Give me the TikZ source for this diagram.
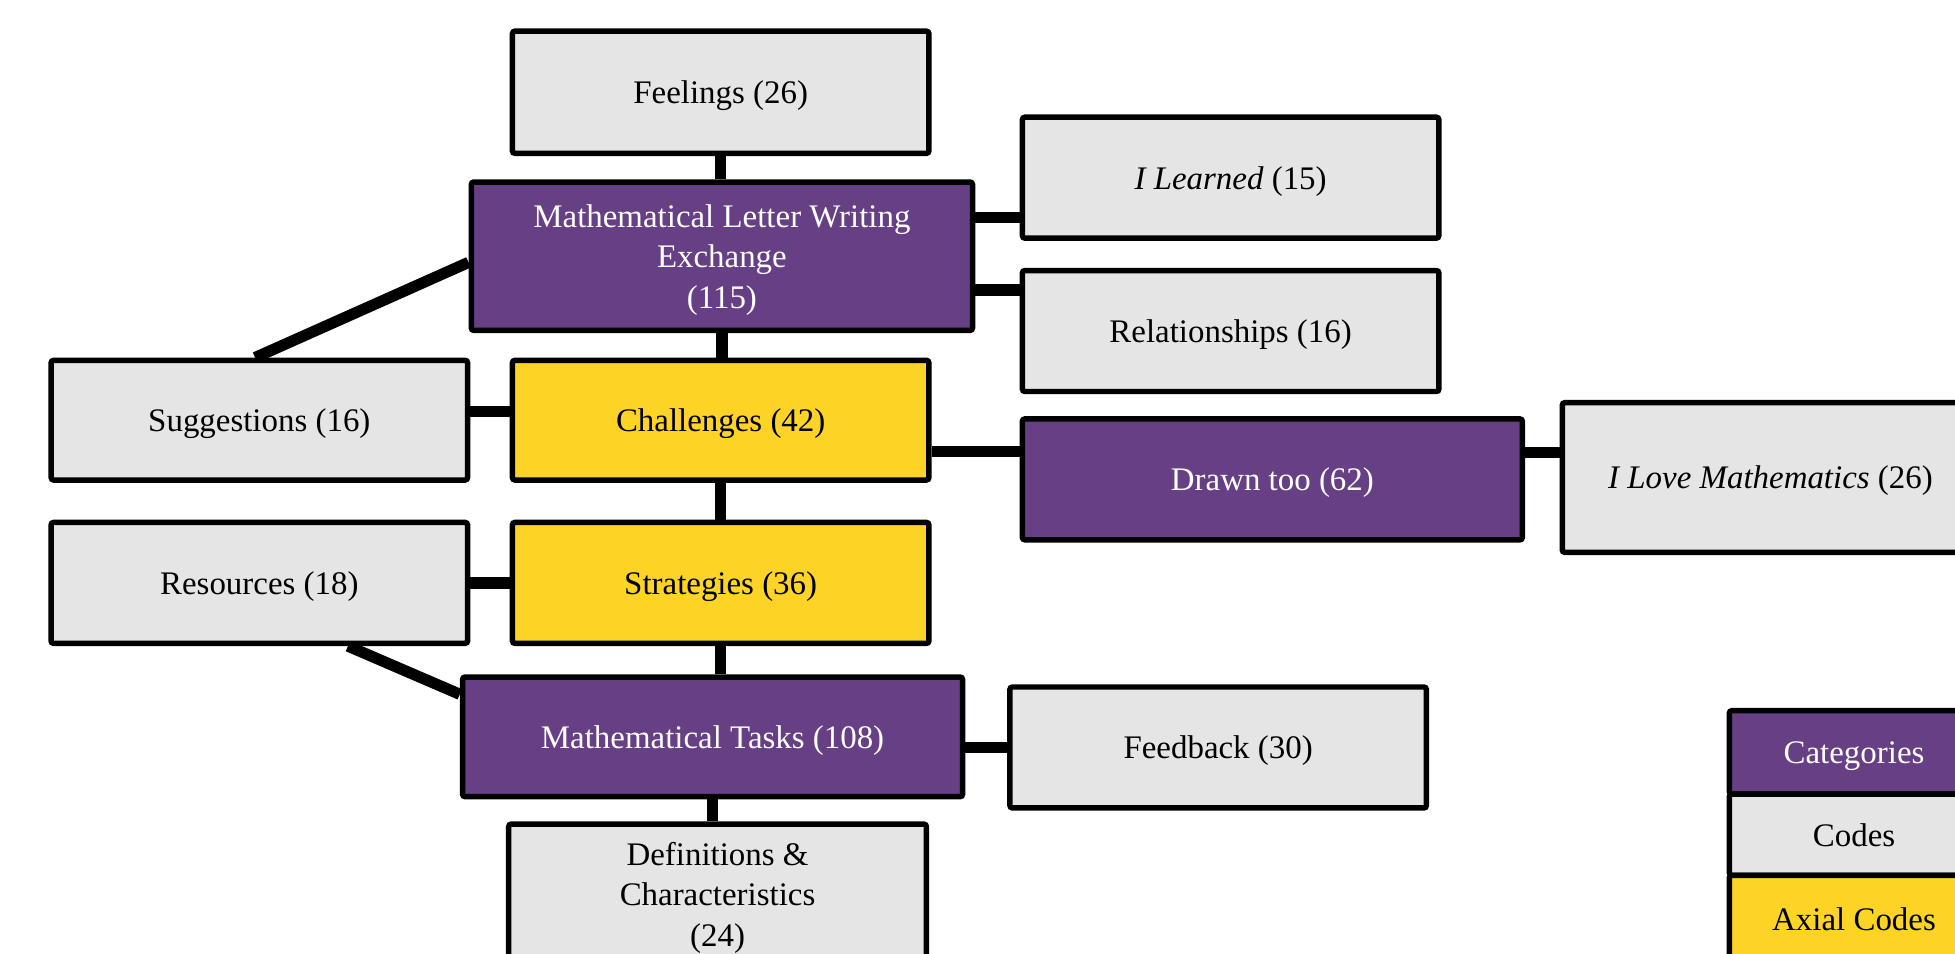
\documentclass[tikz,border=0pt]{standalone}
\usepackage{fontspec}
\setmainfont{Liberation Serif}
\usetikzlibrary{calc,backgrounds}
\definecolor{catpurple}{HTML}{663F85}
\definecolor{axyellow}{HTML}{FDD426}
\definecolor{codegray}{HTML}{E5E5E5}
\begin{document}
\begin{tikzpicture}[x=0.5pt,y=-0.5pt,
  base/.style={draw=black, line width=2.2pt, rounded corners=1pt, inner sep=0pt, align=center, text depth=-1pt, font=\fontsize{13.2}{16.25}\selectfont},
  cat/.style={base, fill=catpurple, text=white},
  code/.style={base, fill=codegray, text=black},
  axial/.style={base, fill=axyellow, text=black},
  conn/.style={line width=4.5pt, draw=black}]
\useasboundingbox (0,0) rectangle (1568,765);

\node[code, minimum width=167pt, minimum height=49pt] (feel) at (578,74) {Feelings (26)};
\node[cat, minimum width=201pt, minimum height=59.5pt] (mlwe) at (579,205.5) {Mathematical Letter Writing\\Exchange\\(115)};
\node[code, minimum width=167pt, minimum height=48.5pt] (ilearn) at (987,142.5) {\textit{I Learned} (15)};
\node[code, minimum width=167pt, minimum height=48.5pt] (rel) at (987,265.5) {Relationships (16)};
\node[code, minimum width=167pt, minimum height=48pt] (sugg) at (208,337) {Suggestions (16)};
\node[axial, minimum width=167pt, minimum height=48pt] (chal) at (578,337) {Challenges (42)};
\node[cat, minimum width=200.5pt, minimum height=48.5pt] (drawn) at (1020.5,384.5) {Drawn too (62)};
\node[code, minimum width=167pt, minimum height=60pt] (ilove) at (1420,383) {\textit{I Love Mathematics} (26)};
\node[code, minimum width=167pt, minimum height=48.5pt] (res) at (208,467.5) {Resources (18)};
\node[axial, minimum width=167pt, minimum height=48.5pt] (strat) at (578,467.5) {Strategies (36)};
\node[cat, minimum width=200.5pt, minimum height=48pt] (tasks) at (571.5,591) {Mathematical Tasks (108)};
\node[code, minimum width=167pt, minimum height=48.5pt] (feed) at (977,599.5) {Feedback (30)};
\node[code, minimum width=167.5pt, minimum height=56pt] (defs) at (575.5,717) {Definitions \&\\Characteristics\\(24)};

\node[cat, minimum width=100pt, minimum height=33.5pt] (lcat) at (1487,603.5) {Categories};
\node[code, minimum width=100pt, minimum height=32.5pt] (lcode) at (1487,669.5) {Codes};
\node[axial, minimum width=100pt, minimum height=35pt] (lax) at (1487,737) {Axial Codes};

\begin{scope}[on background layer]
\draw[conn] (feel.south) -- (feel.south |- mlwe.north);
\draw[conn] ($(mlwe.north east)!0.25!(mlwe.south east)$) coordinate (a1) -- (a1 -| ilearn.west);
\draw[conn] ($(mlwe.north east)!0.72!(mlwe.south east)$) coordinate (a2) -- (a2 -| rel.west);
\draw[conn] ($(mlwe.north west)!0.54!(mlwe.south west)$) -- ($(sugg.north west)!0.49!(sugg.north east)$);
\draw[conn] (mlwe.south) -- (mlwe.south |- chal.north);
\draw[conn] ($(sugg.north east)!0.43!(sugg.south east)$) coordinate (a3) -- (a3 -| chal.west);
\draw[conn] ($(chal.north east)!0.75!(chal.south east)$) coordinate (a4) -- (a4 -| drawn.west);
\draw[conn] ($(drawn.north east)!0.29!(drawn.south east)$) coordinate (a5) -- (a5 -| ilove.west);
\draw[conn] (chal.south) -- (chal.south |- strat.north);
\draw[conn] (res.east) -- (res.east -| strat.west);
\draw[conn] (strat.south) -- (strat.south |- tasks.north);
\draw[conn] ($(res.south west)!0.71!(res.south east)$) -- ($(tasks.north west)!0.16!(tasks.south west)$);
\draw[conn] (feed.west -| tasks.east) -- (feed.west);
\draw[conn] (tasks.south) -- (tasks.south |- defs.north);
\end{scope}
\end{tikzpicture}
\end{document}
